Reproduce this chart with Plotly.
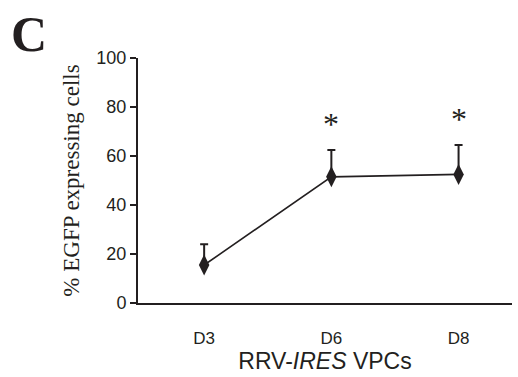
import plotly.graph_objects as go

days = ["D3", "D6", "D8"]
pct_egfp = [15.5, 51.5, 52.5]
sem_upper = [8.5, 11.0, 12.0]
significant = [False, True, True]
y_ticks = [0, 20, 40, 60, 80, 100]

ink = "#231f20"
sans = "Liberation Sans, Arial, sans-serif"
fig = go.Figure()
fig.add_trace(go.Scatter(
    x=[0, 1, 2], y=pct_egfp, mode="lines+markers",
    line=dict(color=ink, width=1.6),
    marker=dict(symbol="diamond-tall", size=15, color=ink),
    error_y=dict(type="data", symmetric=False, array=sem_upper,
                 arrayminus=[0] * len(days), color=ink, thickness=2, width=4),
    showlegend=False, cliponaxis=False,
))

for i, (v, e, s) in enumerate(zip(pct_egfp, sem_upper, significant)):
    if s:
        fig.add_annotation(x=i, y=v + e, yshift=26, text="*", showarrow=False,
                           font=dict(family="Liberation Serif", size=32, color=ink))

fig.add_annotation(xref="paper", yref="paper", x=-0.345, y=1.22, xanchor="left", yanchor="top",
                   text="<b>C</b>", showarrow=False,
                   font=dict(family="Liberation Serif", size=50, color=ink))

fig.update_layout(
    width=518, height=377,
    margin=dict(l=138, r=6, t=58, b=74),
    plot_bgcolor="white", paper_bgcolor="white",
    xaxis=dict(range=[-0.52, 2.42], tickvals=[0, 1, 2], ticktext=days,
               showline=True, linecolor=ink, linewidth=2, showgrid=False, zeroline=False,
               ticks="", ticklabelstandoff=19,
               tickfont=dict(family=sans, size=17, color=ink),
               title=dict(text="RRV-<i>IRES</i> VPCs", standoff=2,
                          font=dict(family=sans, size=23, color=ink))),
    yaxis=dict(range=[0, 100], tickvals=y_ticks, showline=True, linecolor=ink, linewidth=2,
               showgrid=False, zeroline=False, ticks="outside", ticklen=6, tickwidth=2,
               tickcolor=ink,
               tickfont=dict(family=sans, size=18, color=ink),
               title=dict(text="% EGFP expressing cells", standoff=10,
                          font=dict(family="Liberation Serif", size=23, color=ink))),
)
fig.write_html("out.html", post_script="document.body.style.margin='0';",
               config={"displayModeBar": False})
